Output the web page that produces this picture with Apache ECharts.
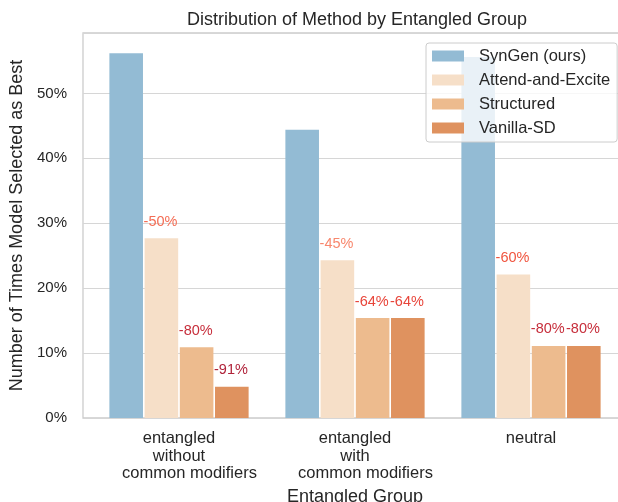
<!DOCTYPE html>
<html>
<head>
<meta charset="utf-8">
<script src="https://cdn.jsdelivr.net/npm/echarts@6/dist/echarts.min.js"></script>
<style>
  html, body { margin: 0; padding: 0; background: #fff; }
  #chart { width: 618px; height: 502px; }
</style>
</head>
<body>
<div id="chart"></div>
<script>
// data
const categories = ['entangled\nwithout\ncommon modifiers', 'entangled\nwith\ncommon modifiers', 'neutral'];
const methods = ['SynGen (ours)', 'Attend-and-Excite', 'Structured', 'Vanilla-SD'];
const syngen = [56.2, 44.4, 55.6];
const attend = [27.7, 24.3, 22.1];
const structured = [10.9, 15.4, 11.1];
const vanilla = [4.8, 15.4, 11.1];
const attendLabels = ['-50%', '-45%', '-60%'];
const structuredLabels = ['-80%', '-64%', '-80%'];
const vanillaLabels = ['-91%', '-64%', '-80%'];
const yTicks = [0, 10, 20, 30, 40, 50];

// styling
const font = 'Liberation Sans, Arial, sans-serif';
const textColor = '#262626';
const barColors = ['#93bbd4', '#f6dfc8', '#edbb8e', '#df925f'];
const labelColors = { '-45%': '#f8876d', '-50%': '#f46d55', '-60%': '#f0553f', '-64%': '#e8453a', '-80%': '#c72f3c', '-91%': '#b0233a' };
const yMax = 59.3;

const chart = echarts.init(document.getElementById('chart'), null, { renderer: 'canvas' });

function withLabels(values, labels) {
  return values.map((v, i) => ({
    value: v,
    label: { show: true, formatter: labels[i], color: labelColors[labels[i]] }
  }));
}

const labelStyle = {
  position: [-1, -16.5],
  align: 'left',
  verticalAlign: 'middle',
  fontSize: 14.5,
  fontFamily: font
};

const seriesData = [syngen, withLabels(attend, attendLabels), withLabels(structured, structuredLabels), withLabels(vanilla, vanillaLabels)];

const option = {
  animation: false,
  backgroundColor: '#fff',
  title: {
    text: 'Distribution of Method by Entangled Group',
    left: 352,
    top: 6,
    textAlign: 'center',
    textStyle: { fontSize: 18, fontWeight: 'normal', color: textColor, fontFamily: font }
  },
  legend: {
    data: methods,
    orient: 'vertical',
    left: 426,
    top: 43,
    padding: [4, 7, 5, 6],
    itemWidth: 32,
    itemHeight: 11,
    itemGap: 6,
    icon: 'rect',
    backgroundColor: 'rgba(255,255,255,0.8)',
    borderColor: '#cccccc',
    borderWidth: 1,
    borderRadius: 3,
    textStyle: { fontSize: 16.5, color: textColor, fontFamily: font, lineHeight: 18, padding: [0, 0, 0, 10] }
  },
  grid: [
    { left: 83, right: -9, top: 33, bottom: 84, outerBoundsMode: 'none', show: true, borderColor: '#cccccc', borderWidth: 1.3, backgroundColor: 'transparent' },
    { left: 91, right: -1, top: 33, bottom: 84, outerBoundsMode: 'none' }
  ],
  xAxis: [
    { gridIndex: 0, type: 'value', min: 0, max: 1, show: false },
    {
      gridIndex: 1,
      type: 'category',
      data: categories,
      axisLine: { show: false },
      axisTick: { show: false },
      axisLabel: {
        interval: 0,
        fontSize: 16.5,
        lineHeight: 17.5,
        margin: 12,
        color: textColor,
        fontFamily: font,
        // the last line sits a little to the right in the reference
        formatter: v => v.split('\n').map((l, i) => (i === 2 ? '{s|' + l + '}' : l)).join('\n'),
        rich: {
          s: { fontSize: 16.5, lineHeight: 17.5, color: textColor, fontFamily: font, padding: [0, 0, 0, 21] }
        }
      },
      name: 'Entangled Group',
      nameLocation: 'middle',
      nameGap: 70,
      nameTextStyle: { fontSize: 18, color: textColor, fontFamily: font }
    }
  ],
  yAxis: [
    {
      gridIndex: 0,
      type: 'value',
      min: 0,
      max: yMax,
      interval: 10,
      axisLine: { show: false },
      axisTick: { show: false },
      splitLine: { lineStyle: { color: '#d6d6d6', width: 1 } },
      axisLabel: {
        showMaxLabel: false,
        margin: 16,
        fontSize: 15,
        color: textColor,
        fontFamily: font,
        formatter: v => (yTicks.includes(v) ? v + '%' : '')
      },
      name: 'Number of Times Model Selected as Best',
      nameLocation: 'middle',
      nameGap: 55,
      nameTextStyle: { fontSize: 18, color: textColor, fontFamily: font }
    },
    { gridIndex: 1, type: 'value', min: 0, max: yMax, show: false }
  ],
  series: methods.map((name, i) => ({
    name: name,
    type: 'bar',
    xAxisIndex: 1,
    yAxisIndex: 1,
    barWidth: 33.6,
    barGap: '4.8%',
    itemStyle: { color: barColors[i] },
    label: Object.assign({ show: false }, labelStyle),
    data: seriesData[i]
  }))
};

chart.setOption(option);
</script>
</body>
</html>
